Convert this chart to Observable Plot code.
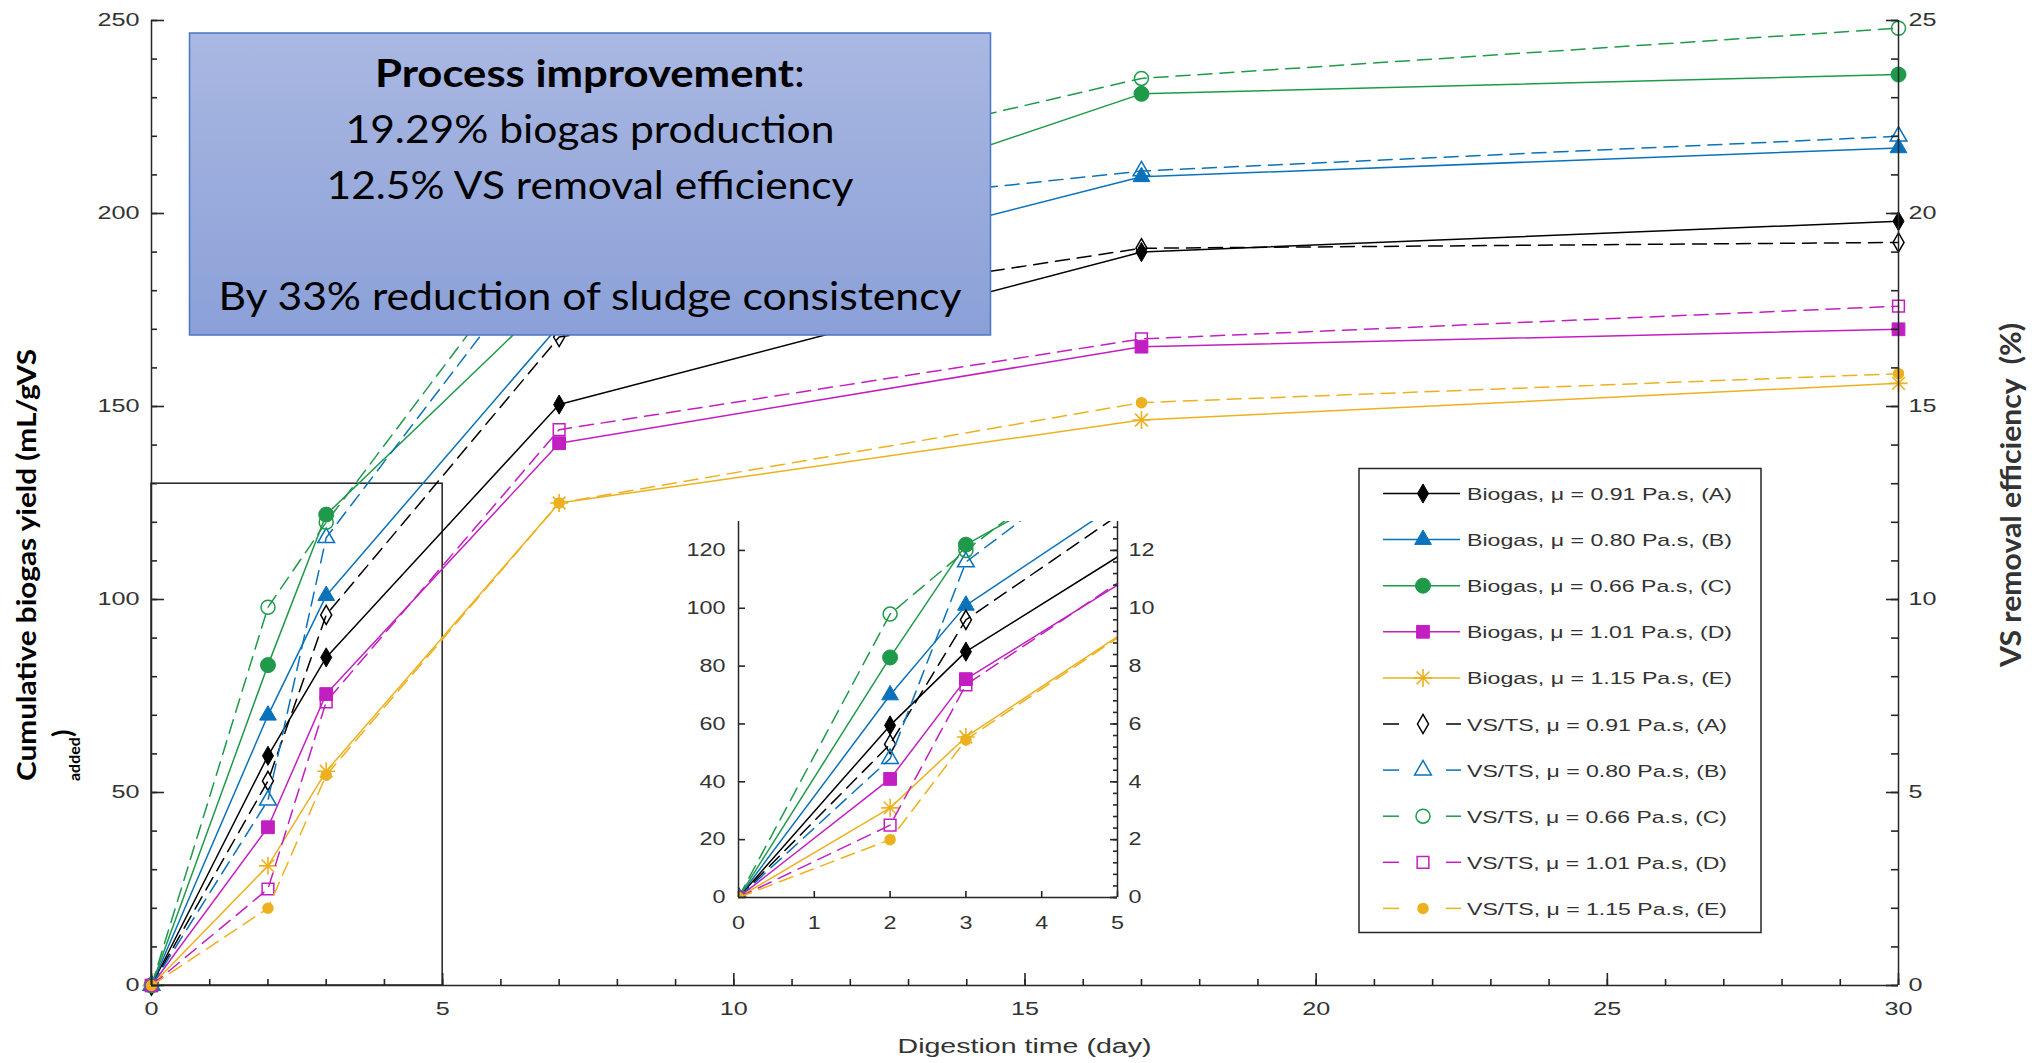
<!DOCTYPE html>
<html><head><meta charset="utf-8">
<script src="https://cdn.jsdelivr.net/npm/d3@7"></script>
<script src="https://cdn.jsdelivr.net/npm/@observablehq/plot@0.6"></script>
<style>
body{margin:0;background:#fff;}
#wrap{position:relative;width:2042px;height:1063px;overflow:hidden;background:#fff;}
#wrap > svg{position:absolute;left:0;top:0;}
</style></head><body><div id="wrap"></div>
<script>
// ---------------- data ----------------
const days = [0, 2, 3, 7, 17, 30];
const seriesIds = ["A", "B", "C", "D", "E"];
const viscosity = ["0.91", "0.80", "0.66", "1.01", "1.15"];
// cumulative biogas yield (mL/gVS added)
const biogasA = [0, 59.5, 85, 150.5, 190, 198];
const biogasB = [0, 70, 101, 171, 209.5, 217];
const biogasC = [0, 83, 122, 180, 231, 236];
const biogasD = [0, 41, 75.5, 140.5, 165.5, 170];
const biogasE = [0, 31, 55.5, 125, 146.5, 156];
// VS removal efficiency (%)
const vsA = [0, 5.3, 9.6, 16.8, 19.1, 19.25];
const vsB = [0, 4.8, 11.6, 19.5, 21.1, 22.0];
const vsC = [0, 9.8, 12.0, 20.0, 23.5, 24.8];
const vsD = [0, 2.5, 7.35, 14.4, 16.75, 17.6];
const vsE = [0, 2.0, 5.45, 12.5, 15.1, 15.85];
// axes
const xDomain = [0, 30];
const yDomain = [0, 250];
const y2Domain = [0, 25];
const xTicks = [0, 5, 10, 15, 20, 25, 30];
const yTicks = [0, 50, 100, 150, 200, 250];
const y2Ticks = [0, 5, 10, 15, 20, 25];
const insetXDomain = [0, 5];
const insetYDomain = [0, 130];
const insetXTicks = [0, 1, 2, 3, 4, 5];
const insetYTicks = [0, 20, 40, 60, 80, 100, 120];
const insetY2Ticks = [0, 2, 4, 6, 8, 10, 12];
const xLabel = "Digestion time (day)";
const yLabelMain = "Cumulative biogas yield (mL/gVS";
const yLabelSub = "added";
const y2Label = "VS removal efficiency  (%)";
const noteTitle = "Process improvement";
const noteLines = ["19.29% biogas production", "12.5% VS removal efficiency", "", "By 33% reduction of sludge consistency"];

// ---------------- styles ----------------
const k2 = yDomain[1] / y2Domain[1]; // right axis -> left axis
const biogasSeries = [biogasA, biogasB, biogasC, biogasD, biogasE];
const vsSeries = [vsA, vsB, vsC, vsD, vsE];
const colors = ["#000000", "#0a72bb", "#1f9a4b", "#c21fc2", "#edb120"];
const star8 = {draw(ctx, size) {
  const r = Math.sqrt(size / Math.PI);
  for (let k = 0; k < 4; k++) {
    const a = k * Math.PI / 4;
    ctx.moveTo(-r * Math.cos(a), -r * Math.sin(a));
    ctx.lineTo(r * Math.cos(a), r * Math.sin(a));
  }
}};
const bioSym = ["diamond", "triangle", "circle", "square", star8];
const bioR = [5.8, 6.2, 7.5, 7.2, 9];
const vsSym = ["diamond", "triangle", "circle", "square", "circle"];
const vsR = [5.8, 6.2, 7, 6.6, 5];
const vsFilled = [false, false, false, false, true];

const bioRows = biogasSeries.map(s => days.map((t, j) => ({t, v: s[j]})));
const vsRows = vsSeries.map(s => days.map((t, j) => ({t, v: s[j] * k2})));

function seriesMarks(clip) {
  const m = [];
  bioRows.forEach((rows, i) => {
    m.push(Plot.line(rows, {x: "t", y: "v", stroke: colors[i], strokeWidth: 1.5, clip}));
    const isStar = i === 4;
    m.push(Plot.dot(rows, {x: "t", y: "v", symbol: bioSym[i], r: bioR[i],
      fill: isStar ? "none" : colors[i], stroke: colors[i], strokeWidth: isStar ? 1.6 : 1, clip}));
  });
  vsRows.forEach((rows, i) => {
    m.push(Plot.line(rows, {x: "t", y: "v", stroke: colors[i], strokeWidth: 1.5, strokeDasharray: "14,8", clip}));
    m.push(Plot.dot(rows, {x: "t", y: "v", symbol: vsSym[i], r: vsR[i],
      fill: vsFilled[i] ? colors[i] : "none", stroke: colors[i], strokeWidth: 1.5, clip}));
  });
  return m;
}
const range = (a, b, s) => d3.range(a, b + s / 2, s);
const axisColor = "#262626";
const fontTicks = "'Liberation Sans', Arial, Helvetica, sans-serif";

// inward tick marks as short rules; pixel length converted to data units of the frame
function tickMarks(xd, yd, fw, fh, spec) {
  const ux = (xd[1] - xd[0]) / fw, uy = (yd[1] - yd[0]) / fh;
  const o = {stroke: axisColor, strokeWidth: 1.6};
  const m = [];
  spec.bottom.forEach(([vals, L]) => m.push(Plot.ruleX(vals, {x: d => d, y1: yd[0], y2: yd[0] + L * uy, ...o})));
  spec.left.forEach(([vals, L]) => m.push(Plot.ruleY(vals, {y: d => d, x1: xd[0], x2: xd[0] + L * ux, ...o})));
  spec.right.forEach(([vals, L]) => m.push(Plot.ruleY(vals, {y: d => d, x1: xd[1] - L * ux, x2: xd[1], ...o})));
  return m;
}

// ---------------- main chart ----------------
const ML = 151, MR = 144, MT = 20, MB = 78, W = 2042, H = 1063;
const main = Plot.plot({
  width: W, height: H, marginLeft: ML, marginRight: MR, marginTop: MT, marginBottom: MB,
  x: {domain: xDomain}, y: {domain: yDomain},
  style: {fontFamily: fontTicks, fontSize: "18px", color: "#333", background: "white", overflow: "visible"},
  marks: [
    Plot.rect([{}], {x1: insetXDomain[0], x2: insetXDomain[1], y1: insetYDomain[0], y2: insetYDomain[1], fill: "none", stroke: "#222", strokeWidth: 1.5}),
    ...seriesMarks(false),
    Plot.ruleX([xDomain[0], xDomain[1]], {stroke: axisColor, strokeWidth: 1.5}),
    Plot.ruleY([yDomain[0]], {stroke: axisColor, strokeWidth: 1.5}),
    ...tickMarks(xDomain, yDomain, W - ML - MR, H - MT - MB, {
      bottom: [[xTicks, 12], [range(0, 30, 1), 6]],
      left: [[yTicks, 13], [range(0, 250, 10), 6]],
      right: [[y2Ticks.map(d => d * k2), 12], [range(0, 250, 10), 7]]
    }),
    Plot.axisX(xTicks, {tickSize: 0, tickPadding: 17, label: null}),
    Plot.axisY(yTicks, {anchor: "left", tickSize: 0, tickPadding: 12, label: null}),
    Plot.axisY(y2Ticks.map(d => d * k2), {anchor: "right", tickSize: 0, tickPadding: 10, label: null, tickFormat: d => String(d / k2)})
  ]
});
const wrap = document.getElementById("wrap");
wrap.appendChild(main);

// ---------------- inset ----------------
const iL = 60, iR = 50, iT = 10, iB = 45;
const iFrame = {left: 738, right: 1117, top: 521, bottom: 897};
const iW = iFrame.right - iFrame.left, iH = iFrame.bottom - iFrame.top;
const inset = Plot.plot({
  width: iL + iR + iW, height: iT + iB + iH,
  marginLeft: iL, marginRight: iR, marginTop: iT, marginBottom: iB,
  x: {domain: insetXDomain}, y: {domain: insetYDomain},
  style: {fontFamily: fontTicks, fontSize: "18px", color: "#333", background: "transparent", overflow: "visible"},
  marks: [
    ...seriesMarks(true),
    Plot.ruleX(insetXDomain, {stroke: axisColor, strokeWidth: 1.5}),
    Plot.ruleY([insetYDomain[0]], {stroke: axisColor, strokeWidth: 1.5}),
    ...tickMarks(insetXDomain, insetYDomain, iW, iH, {
      bottom: [[insetXTicks, 6]],
      left: [[insetYTicks, 7]],
      right: [[insetY2Ticks.map(d => d * k2), 7], [range(0, 128, 4), 4]]
    }),
    Plot.axisX(insetXTicks, {tickSize: 0, tickPadding: 19, label: null}),
    Plot.axisY(insetYTicks, {anchor: "left", tickSize: 0, tickPadding: 13, label: null}),
    Plot.axisY(insetY2Ticks.map(d => d * k2), {anchor: "right", tickSize: 0, tickPadding: 11, label: null, tickFormat: d => String(d / k2)})
  ]
});
inset.style.left = (iFrame.left - iL) + "px";
inset.style.top = (iFrame.top - iT) + "px";
wrap.appendChild(inset);

// stretch tick labels horizontally (figure was stretched)
function stretch(svg, f) {
  svg.querySelectorAll('g[aria-label$="tick label"] text').forEach(t => {
    const L = t.getComputedTextLength();
    if (L > 0) { t.setAttribute("textLength", (L * f).toFixed(1)); t.setAttribute("lengthAdjust", "spacingAndGlyphs"); }
  });
}
stretch(main, 1.4);
stretch(inset, 1.3);

// ---------------- overlays ----------------
const svg = d3.select(main);
const defs = svg.append("defs");
const grad = defs.append("linearGradient").attr("id", "noteGrad").attr("x1", 0).attr("y1", 0).attr("x2", 0).attr("y2", 1);
grad.append("stop").attr("offset", "0%").attr("stop-color", "#aab8e2");
grad.append("stop").attr("offset", "100%").attr("stop-color", "#8aa0d7");

// axis titles
svg.append("text").attr("x", (ML + W - MR) / 2).attr("y", 1053).attr("text-anchor", "middle")
  .attr("font-family", fontTicks).attr("font-size", 20).attr("fill", "#333")
  .attr("textLength", 254).attr("lengthAdjust", "spacingAndGlyphs").text(xLabel);

const yt = svg.append("g").attr("font-family", "Lato, 'Open Sans', sans-serif").attr("font-weight", 700).attr("fill", "#000").attr("text-anchor", "start");
yt.append("text").attr("transform", "translate(36,781) rotate(-90)").attr("font-size", 27).attr("text-anchor", "start")
  .attr("textLength", 432).attr("lengthAdjust", "spacingAndGlyphs").text(yLabelMain);
const yt2 = yt.append("text").attr("transform", "translate(72,781) rotate(-90)").attr("text-anchor", "start");
yt2.append("tspan").attr("font-size", 16).attr("dy", 8).text(yLabelSub);
yt2.append("tspan").attr("font-size", 27).attr("dy", -8).text(")");

svg.append("text").attr("transform", "translate(2021,495) rotate(-90)").attr("text-anchor", "middle")
  .attr("font-family", "Lato, 'Open Sans', sans-serif").attr("font-weight", 700).attr("font-size", 29)
  .attr("textLength", 344).attr("lengthAdjust", "spacingAndGlyphs").text(y2Label);

// annotation box
const note = svg.append("g").attr("text-anchor", "middle");
note.append("rect").attr("x", 189.5).attr("y", 33).attr("width", 801).attr("height", 302)
  .attr("fill", "url(#noteGrad)").attr("stroke", "#4a76c6").attr("stroke-width", 1.5);
const noteFont = "Lato, Carlito, Calibri, 'Open Sans', sans-serif";
const t0 = note.append("text").attr("x", 590).attr("y", 87)
  .attr("font-family", noteFont).attr("font-size", 38).attr("fill", "#000")
  .attr("textLength", 430).attr("lengthAdjust", "spacingAndGlyphs");
t0.append("tspan").attr("font-weight", 700).text(noteTitle);
t0.append("tspan").text(":");
const noteBase = [143, 198.5, 254, 309.5];
const noteLen = [489, 527, 0, 743];
noteLines.forEach((s, i) => {
  if (!s) return;
  note.append("text").attr("x", 590).attr("y", noteBase[i])
    .attr("font-family", noteFont).attr("font-size", 38).attr("fill", "#000")
    .attr("textLength", noteLen[i]).attr("lengthAdjust", "spacingAndGlyphs").text(s);
});

// legend
const leg = svg.append("g").attr("text-anchor", "start");
leg.append("rect").attr("x", 1359).attr("y", 468.5).attr("width", 402).attr("height", 464)
  .attr("fill", "white").attr("stroke", "#262626").attr("stroke-width", 1.5);
const d3sym = {diamond: d3.symbolDiamond, triangle: d3.symbolTriangle, circle: d3.symbolCircle, square: d3.symbolSquare};
const symOf = s => typeof s === "string" ? d3sym[s] : s;
const entries = [];
seriesIds.forEach((id, i) => entries.push({label: `Biogas, μ = ${viscosity[i]} Pa.s, (${id})`, i, vs: false}));
seriesIds.forEach((id, i) => entries.push({label: `VS/TS, μ = ${viscosity[i]} Pa.s, (${id})`, i, vs: true}));
entries.forEach((e, r) => {
  const cy = 493.5 + r * 46.1;
  const c = colors[e.i];
  if (!e.vs) {
    leg.append("line").attr("x1", 1383).attr("x2", 1460).attr("y1", cy).attr("y2", cy).attr("stroke", c).attr("stroke-width", 1.5);
    const isStar = e.i === 4;
    leg.append("path").attr("transform", `translate(1423,${cy})`)
      .attr("d", d3.symbol(symOf(bioSym[e.i]), Math.PI * bioR[e.i] ** 2)())
      .attr("fill", isStar ? "none" : c).attr("stroke", c).attr("stroke-width", isStar ? 1.6 : 1);
  } else {
    leg.append("line").attr("x1", 1383).attr("x2", 1399).attr("y1", cy).attr("y2", cy).attr("stroke", c).attr("stroke-width", 1.5);
    leg.append("line").attr("x1", 1446).attr("x2", 1461).attr("y1", cy).attr("y2", cy).attr("stroke", c).attr("stroke-width", 1.5);
    leg.append("path").attr("transform", `translate(1423,${cy})`)
      .attr("d", d3.symbol(symOf(vsSym[e.i]), Math.PI * vsR[e.i] ** 2)())
      .attr("fill", vsFilled[e.i] ? c : "none").attr("stroke", c).attr("stroke-width", 1.5);
  }
  leg.append("text").attr("x", 1467).attr("y", cy + 6.5).attr("text-anchor", "start").attr("font-family", fontTicks).attr("font-size", 17)
    .attr("fill", "#333").attr("textLength", e.vs ? 260 : 265).attr("lengthAdjust", "spacingAndGlyphs").text(e.label);
});
</script>
</body></html>
